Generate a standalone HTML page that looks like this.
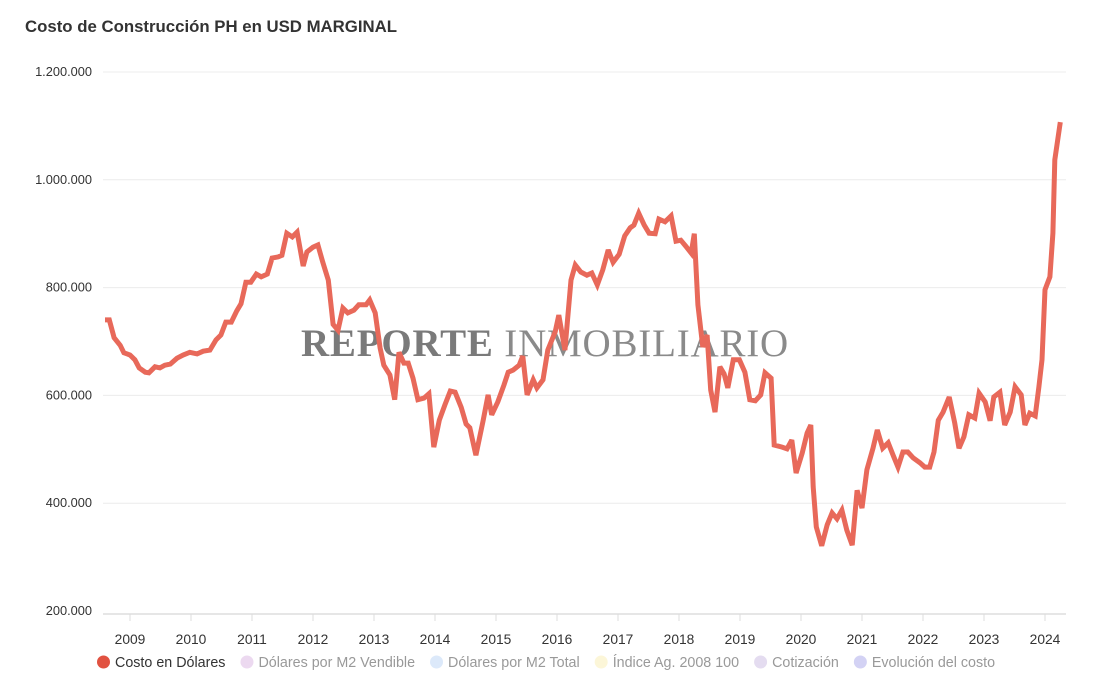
<!DOCTYPE html>
<html><head><meta charset="utf-8"><style>
html,body{margin:0;padding:0;background:#fff;}
body{width:1118px;height:690px;overflow:hidden;font-family:"Liberation Sans",sans-serif;}
</style></head><body>
<svg id="chart" width="1118" height="690" xmlns="http://www.w3.org/2000/svg">
<text x="25" y="32" font-family="Liberation Sans, sans-serif" font-size="16.8" font-weight="bold" fill="#333">Costo de Construcción PH en USD MARGINAL</text>
<g id="grid"></g>
<g id="yaxis"></g>
<g id="xaxis"></g>
<text x="545" y="356" text-anchor="middle" font-family="Liberation Serif, serif" font-size="39" letter-spacing="0.8"><tspan fill="#7a7a7a" font-weight="bold">REPORTE</tspan><tspan fill="#8a8a8a"> INMOBILIARIO</tspan></text>
<g id="series"></g>
<g id="legend"></g>
</svg>
<script>
const dates=[2008.59,2008.66,2008.74,2008.84,2008.90,2009.00,2009.08,2009.15,2009.25,2009.31,2009.41,2009.49,2009.57,2009.66,2009.77,2009.87,2009.98,2010.10,2010.20,2010.31,2010.41,2010.49,2010.57,2010.66,2010.75,2010.82,2010.90,2010.98,2011.07,2011.15,2011.25,2011.33,2011.43,2011.49,2011.57,2011.66,2011.74,2011.84,2011.90,2012.00,2012.08,2012.16,2012.25,2012.33,2012.41,2012.49,2012.57,2012.67,2012.75,2012.87,2012.93,2013.02,2013.10,2013.16,2013.26,2013.34,2013.41,2013.49,2013.56,2013.64,2013.72,2013.82,2013.90,2013.98,2014.07,2014.16,2014.25,2014.33,2014.43,2014.51,2014.57,2014.67,2014.79,2014.87,2014.93,2015.03,2015.13,2015.20,2015.28,2015.38,2015.44,2015.51,2015.61,2015.67,2015.77,2015.85,2015.97,2016.03,2016.13,2016.23,2016.30,2016.39,2016.49,2016.57,2016.66,2016.75,2016.84,2016.92,2017.02,2017.11,2017.20,2017.26,2017.34,2017.43,2017.51,2017.61,2017.67,2017.77,2017.87,2017.95,2018.03,2018.11,2018.20,2018.25,2018.31,2018.39,2018.46,2018.52,2018.59,2018.67,2018.74,2018.80,2018.89,2018.99,2019.08,2019.16,2019.25,2019.34,2019.41,2019.51,2019.56,2019.69,2019.77,2019.85,2019.92,2020.02,2020.10,2020.16,2020.20,2020.25,2020.34,2020.43,2020.51,2020.59,2020.67,2020.75,2020.84,2020.92,2021.00,2021.08,2021.18,2021.25,2021.34,2021.43,2021.51,2021.59,2021.67,2021.75,2021.84,2021.95,2022.03,2022.11,2022.18,2022.25,2022.33,2022.43,2022.52,2022.59,2022.67,2022.75,2022.85,2022.92,2023.02,2023.10,2023.16,2023.26,2023.34,2023.43,2023.51,2023.61,2023.67,2023.75,2023.84,2023.90,2023.95,2024.00,2024.08,2024.13,2024.16,2024.25];
const costValues=[740,740,707,693,679,675,666,651,643,642,653,651,656,658,669,675,680,677,682,684,703,712,736,736,757,770,810,810,825,820,825,855,857,860,901,894,903,840,866,875,879,847,814,732,721,762,753,758,768,768,777,753,688,656,638,592,680,660,660,632,592,595,603,504,554,582,608,606,578,547,540,489,554,601,564,588,619,643,647,656,673,601,629,614,629,684,718,749,684,814,842,829,823,827,805,833,870,847,862,896,911,916,938,916,901,900,927,922,933,886,888,877,864,900,768,690,712,610,569,653,640,614,666,666,643,592,590,601,642,632,508,504,501,517,456,493,530,545,430,356,321,360,382,371,387,350,322,424,391,462,502,536,502,512,489,467,495,495,484,475,467,467,495,554,569,597,549,502,523,564,558,604,588,553,597,606,545,569,616,601,545,567,562,616,666,796,820,901,1037,1107];
const yTicks=[200,400,600,800,1000,1200];
const yTickLabels=["200.000","400.000","600.000","800.000","1.000.000","1.200.000"];
const xTicks=[2009,2010,2011,2012,2013,2014,2015,2016,2017,2018,2019,2020,2021,2022,2023,2024];
const legendLabels=["Costo en Dólares","Dólares por M2 Vendible","Dólares por M2 Total","Índice Ag. 2008 100","Cotización","Evolución del costo"];
const legendColors=["#e15241","#ecd9f0","#dce9fa","#fcf6d8","#e4dcf0","#d3d2f4"];

const NS="http://www.w3.org/2000/svg";
const L=103,R=1066,T=72,B=611;
const yScale=v=>B-(v-200)/1000*(B-T);
const xScale=d=>130+(d-2009)*61;
function mk(tag,attrs,parent,text){const e=document.createElementNS(NS,tag);for(const k in attrs)e.setAttribute(k,attrs[k]);if(text!==undefined)e.textContent=text;parent.appendChild(e);return e;}
const grid=document.getElementById('grid'),ya=document.getElementById('yaxis'),xa=document.getElementById('xaxis'),ser=document.getElementById('series'),leg=document.getElementById('legend');
yTicks.forEach((v,i)=>{
  const y=yScale(v);
  if(i>0){const g=mk('line',{x1:L,x2:R,y1:y,y2:y,stroke:'#ececec','stroke-width':1},grid);
  
  }
  const t=mk('text',{x:92,y:y+4,'text-anchor':'end','font-size':12.8,fill:'#333'},ya,yTickLabels[i]);
  
  
});
const ax=mk('line',{x1:L,x2:R,y1:614,y2:614,stroke:'#ddd','stroke-width':1.5},xa);


xTicks.forEach(d=>{
  const x=xScale(d);
  const tk=mk('line',{x1:x,x2:x,y1:614,y2:621,stroke:'#ddd','stroke-width':1},xa);
  
  
  const t=mk('text',{x:x,y:644,'text-anchor':'middle','font-size':13.8,fill:'#333'},xa,String(d));
  
  
});
const pts=dates.map((d,i)=>xScale(d).toFixed(1)+','+yScale(costValues[i]).toFixed(1)).join(' ');
const pl=mk('polyline',{points:pts,fill:'none',stroke:'#e8695a','stroke-width':5,'stroke-linejoin':'miter','stroke-miterlimit':3,'stroke-linecap':'butt'},ser);


let lx=97;
legendLabels.forEach((lab,i)=>{
  const g=mk('g',{},leg);
  
  
  mk('circle',{cx:lx+6.5,cy:662,r:6.5,fill:legendColors[i]},g);
  const t=mk('text',{x:lx+18,y:667,'font-size':14.3,fill:i===0?'#333':'#999'},g,lab);
  lx+=18+t.getComputedTextLength()+15;
});
</script>
</body></html>
